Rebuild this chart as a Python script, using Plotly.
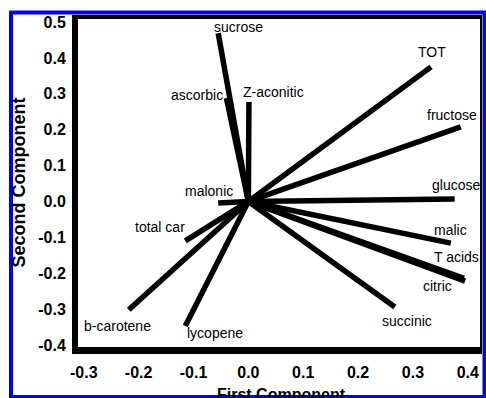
import plotly.graph_objects as go

# ---- data (loadings) ----
variables = ["sucrose", "ascorbic", "Z-aconitic", "TOT", "fructose", "glucose",
             "malic", "T acids", "citric", "succinic", "lycopene", "b-carotene",
             "total car", "malonic"]
first_comp = [-0.055, -0.040, 0.001, 0.333, 0.387, 0.376,
              0.369, 0.393, 0.395, 0.267, -0.115, -0.218,
              -0.115, -0.055]
second_comp = [0.469, 0.288, 0.277, 0.375, 0.208, 0.007,
               -0.116, -0.214, -0.222, -0.294, -0.347, -0.302,
               -0.110, -0.004]

x_ticks = [-0.3, -0.2, -0.1, 0.0, 0.1, 0.2, 0.3, 0.4]
x_tick_labels = ["-0.3", "-0.2", "-0.1", "0.0", "0.1", "0.2", "0.3", "0.4"]
y_ticks = [-0.4, -0.3, -0.2, -0.1, 0.0, 0.1, 0.2, 0.3, 0.4, 0.5]
y_tick_labels = ["-0.4", "-0.3", "-0.2", "-0.1", "0.0", "0.1", "0.2", "0.3", "0.4", "0.5"]

# label offsets in pixels (style only)
label_shift = {
    "sucrose": (20, 6), "ascorbic": (-29, 3), "Z-aconitic": (25, 10),
    "TOT": (1, 15), "fructose": (-9, 12), "glucose": (1, 14),
    "malic": (0, 13), "T acids": (-7, 21), "citric": (-28, -5),
    "succinic": (12, -14), "lycopene": (30, -7), "b-carotene": (-11, -16),
    "total car": (-25, 14), "malonic": (-9, 12),
}

FONT = "Arial, Liberation Sans, sans-serif"

fig = go.Figure()
for name, xv, yv in zip(variables, first_comp, second_comp):
    fig.add_trace(go.Scatter(x=[0, xv], y=[0, yv], mode="lines",
                             line=dict(color="black", width=5.5),
                             showlegend=False, hoverinfo="skip"))

annotations = []
for name, xv, yv in zip(variables, first_comp, second_comp):
    dx, dy = label_shift[name]
    annotations.append(dict(x=xv, y=yv, xref="x", yref="y", text=name,
                            showarrow=False, xshift=dx, yshift=dy,
                            xanchor="center", yanchor="middle",
                            font=dict(family=FONT, size=14, color="black")))

W, H = 486, 398
L, R, T, B = 75, 5, 17, 48
pw, ph = W - L - R, H - T - B

def px(xp):
    return (xp - L) / pw

def py(yp):
    return (H - B - yp) / ph

# axis titles
annotations.append(dict(x=px(281), y=py(384), xref="paper", yref="paper",
                        text="First Component", showarrow=False,
                        xanchor="center", yanchor="top",
                        font=dict(family=FONT, size=16, color="black", weight="bold")))
annotations.append(dict(x=px(18.5), y=py(183), xref="paper", yref="paper",
                        text="Second Component", showarrow=False, textangle=-90,
                        xanchor="center", yanchor="middle",
                        font=dict(family=FONT, size=18, color="black", weight="bold")))

shapes = [
    # frame
    dict(type="line", xref="paper", yref="paper", x0=px(75), x1=px(75),
         y0=py(15), y1=py(354), line=dict(color="black", width=6)),
    dict(type="line", xref="paper", yref="paper", x0=px(72), x1=px(482),
         y0=py(350.5), y1=py(350.5), line=dict(color="black", width=7)),
    dict(type="line", xref="paper", yref="paper", x0=px(72), x1=px(482),
         y0=py(17), y1=py(17), line=dict(color="black", width=4)),
    dict(type="line", xref="paper", yref="paper", x0=px(481), x1=px(481),
         y0=py(15), y1=py(354), line=dict(color="black", width=2)),
    # blue outer border
    dict(type="rect", xref="paper", yref="paper", x0=px(11), x1=px(484.5),
         y0=py(397), y1=py(12.5), line=dict(color="#0000FF", width=4)),
]

fig.update_layout(
    width=W, height=H,
    margin=dict(l=L, r=R, t=T, b=B),
    paper_bgcolor="white", plot_bgcolor="white",
    annotations=annotations, shapes=shapes,
    xaxis=dict(range=[-0.316, 0.424], tickvals=x_ticks, ticktext=x_tick_labels,
               showgrid=False, zeroline=False, showline=False,
               ticks="outside", ticklen=8, tickcolor="rgba(0,0,0,0)",
               tickfont=dict(family=FONT, size=16, color="black", weight="bold")),
    yaxis=dict(range=[-0.414, 0.514], tickvals=y_ticks, ticktext=y_tick_labels,
               showgrid=False, zeroline=False, showline=False,
               ticks="outside", ticklen=5, tickcolor="rgba(0,0,0,0)",
               tickfont=dict(family=FONT, size=16, color="black", weight="bold")),
)

fig.write_html("out.html", config={"displayModeBar": False},
               post_script="document.body.style.margin='0';document.body.style.overflow='hidden';")
